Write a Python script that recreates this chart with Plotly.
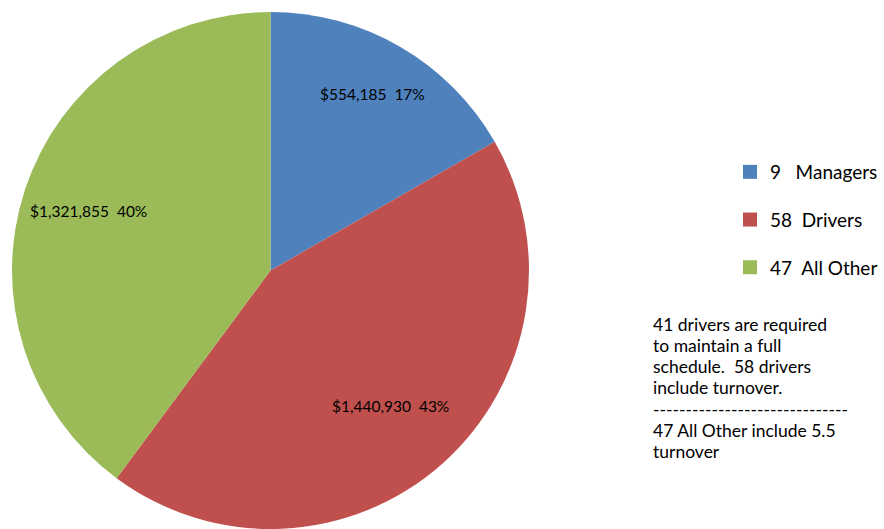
import math
import plotly.graph_objects as go

categories = ["9\u00a0\u00a0 Managers", "58\u00a0 Drivers", "47\u00a0 All Other"]
values = [554185, 1440930, 1321855]
colors = ["#4F81BD", "#C0504D", "#9BBB59"]
label_radius = [0.79, 0.70, 0.74]  # style: radial position of value labels
note_lines = [
    "41 drivers are required",
    "to maintain a full",
    "schedule.\u00a0 58 drivers",
    "include turnover.",
    "------------------------------",
    "47 All Other include 5.5",
    "turnover",
]

total = sum(values)
labels_text = [f"${v:,}\u00a0\u00a0{round(v / total * 100)}%" for v in values]

W, H = 884, 529
dom_x = [12 / W, 529 / W]
dom_y = [0, 1 - 12 / H]

fig = go.Figure()
fig.add_trace(go.Pie(
    labels=categories,
    values=values,
    text=labels_text,
    textinfo="none",
    sort=False,
    direction="clockwise",
    rotation=0,
    marker=dict(colors=colors, line=dict(width=0)),
    showlegend=False,
    hoverinfo="label+value+percent",
    domain=dict(x=dom_x, y=dom_y),
))

# value labels placed along each slice's mid-angle (derived from the values)
cx_px = (dom_x[0] + dom_x[1]) / 2 * W
cy_px = (1 - (dom_y[0] + dom_y[1]) / 2) * H
r_px = min((dom_x[1] - dom_x[0]) * W, (dom_y[1] - dom_y[0]) * H) / 2
cum = 0
for v, t, f in zip(values, labels_text, label_radius):
    mid = (cum + v / 2) / total * 2 * math.pi
    cum += v
    px = cx_px + f * r_px * math.sin(mid)
    py = cy_px - f * r_px * math.cos(mid)
    fig.add_annotation(
        x=px / W, y=1 - py / H, xref="paper", yref="paper",
        xanchor="center", yanchor="middle", showarrow=False,
        text=t, font=dict(family="Lato", size=15.5, color="#000000"),
    )

for i, (c, col) in enumerate(zip(categories, colors)):
    fig.add_trace(go.Scatter(
        x=[None], y=[None], mode="markers",
        marker=dict(symbol="square", size=14, color=col),
        name=c, legendgroup=str(i), showlegend=True,
    ))

for i, line in enumerate(note_lines):
    fig.add_annotation(
        x=651 / W, y=1 - (324 + i * 21.3) / H, xref="paper", yref="paper",
        xanchor="left", yanchor="middle", align="left", showarrow=False,
        text=line, font=dict(family="Lato", size=17.5, color="#000000"),
    )

fig.update_layout(
    width=W, height=H,
    margin=dict(l=0, r=0, t=0, b=0),
    paper_bgcolor="white", plot_bgcolor="white",
    xaxis=dict(visible=False), yaxis=dict(visible=False),
    legend=dict(
        x=730 / W, y=1 - 153 / H, xanchor="left", yanchor="top",
        font=dict(family="Lato", size=19, color="#000000"),
        tracegroupgap=20, itemwidth=30,
        bgcolor="rgba(0,0,0,0)",
    ),
)

fig.write_html("out.html")
